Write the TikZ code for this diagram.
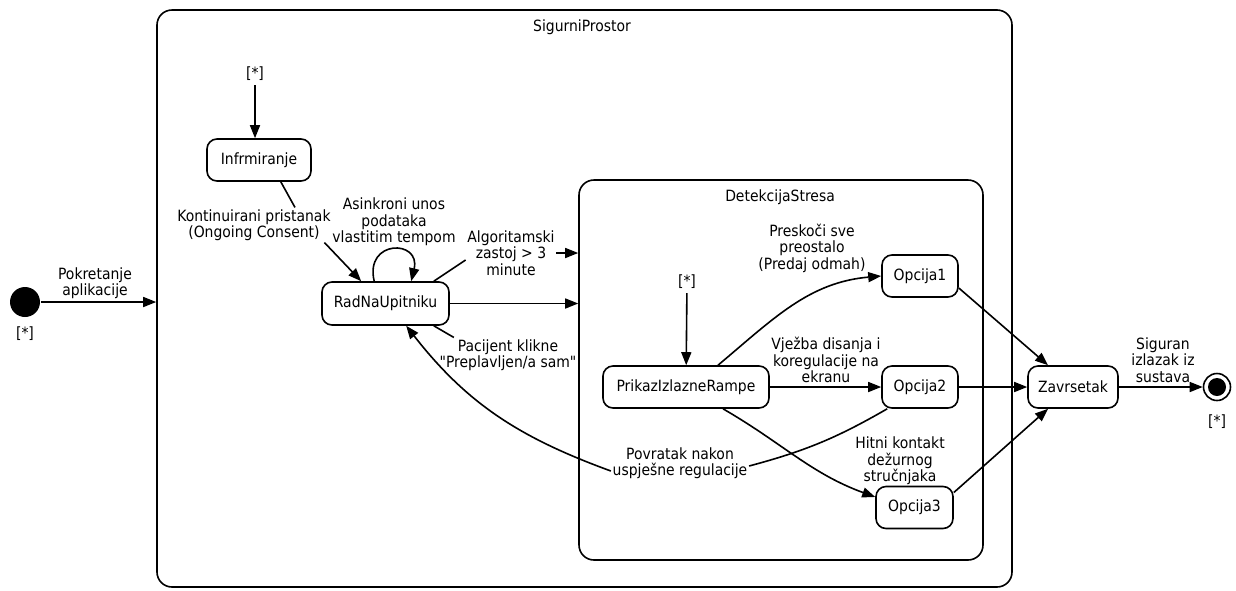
\documentclass[tikz,border=0pt]{standalone}
\usepackage{fontspec}
\newfontfamily\diagfont{DejaVu Sans Condensed}
\usetikzlibrary{arrows.meta}

\begin{document}
\begin{tikzpicture}[x=1pt,y=-1pt,line width=1.6pt,
  >={Triangle[length=13pt,width=10pt]},
  every node/.style={font=\diagfont\fontsize{15.5}{16.5}\selectfont},
  state/.style={draw,rounded corners=10pt,minimum height=42pt,inner sep=0pt},
  region/.style={draw,rounded corners=15pt,inner sep=0pt},
  lbl/.style={align=center,inner sep=1pt}]
\useasboundingbox (0,0) rectangle (1236,590);

%Outer state
\node[region,minimum width=855pt,minimum height=577pt] (sigurni) at (584.5,298.5) {};
\node (sigurniTitle) at (582,27) {SigurniProstor};
\node[circle,fill,minimum size=30pt,inner sep=0pt] (init) at (25,302) {};
\node (initStar) at (25,334) {[*]};
\node[lbl] (lblPok) at (95,283) {Pokretanje\\aplikacije};
\draw[->] (init) -- (sigurni.west |- init);

%Consent and questionnaire
\node (star1) at (255,74) {[*]};
\node[state,minimum width=104pt] (inf) at (259,160) {Infrmiranje};
\node[state,minimum width=127pt,minimum height=43pt] (rad) at (385.5,303.5) {RadNaUpitniku};
\node[lbl] (lblK) at (254,225) {Kontinuirani pristanak\\(Ongoing Consent)};
\node[lbl] (lblAs) at (394,222) {Asinkroni unos\\podataka\\vlastitim tempom};
\node[lbl] (lblAl) at (511,253) {Algoritamski\\zastoj > 3\\minute};
\node[lbl] (lblPac) at (508,355) {Pacijent klikne\\"Preplavljen/a sam"};
\draw[->] (star1) -- (star1 |- inf.north);
\draw[->] (inf.-45) -- ([xshift=41pt]lblK.north) ([xshift=-8pt]lblK.south east) -- ([xshift=40pt]rad.north west);
\draw[->] ([xshift=53pt]rad.north west) .. controls +(-10,-42) and +(10,-42) .. ([xshift=90pt]rad.north west);

%Stress detection
\node[region,minimum width=404pt,minimum height=380pt] (det) at (781,370) {};
\node (detTitle) at (780,197) {DetekcijaStresa};
\draw ([xshift=-16pt]rad.north east) -- ([yshift=-7pt]lblAl.west);
\draw[->] (lblAl.east) -- (lblAl.east -| det.west);
\draw[->] (rad) -- (rad -| det.west);
\draw ([xshift=-16pt]rad.south east) -- ([xshift=16pt]lblPac.north west);

\node (star2) at (687,282) {[*]};
\node[state,minimum width=166pt] (prikaz) at (686,387) {PrikazIzlazneRampe};
\node[state,minimum width=76pt] (opc1) at (920,276) {Opcija1};
\node[state,minimum width=76pt] (opc2) at (920,387) {Opcija2};
\node[state,minimum width=77pt] (opc3) at (914.5,507.5) {Opcija3};
\node[lbl] (lblPre) at (812,248) {Preskoči sve\\preostalo\\(Predaj odmah)};
\node[lbl] (lblVj) at (826,360) {Vježba disanja i\\koregulacije na\\ekranu};
\node[lbl] (lblHit) at (900,461) {Hitni kontakt\\dežurnog\\stručnjaka};
\node[lbl] (lblPov) at (680,463) {Povratak nakon\\uspješne regulacije};
\draw[->] (star2) -- (prikaz);
\draw[->] ([xshift=32pt]prikaz.north) to[out=40,in=185] (opc1.west);
\draw[->] (prikaz) -- (opc2);
\draw[->] ([xshift=37pt]prikaz.south) to[out=-30,in=160] (opc3.165);
\draw ([xshift=6pt]opc2.south west) to[out=210,in=15] ([yshift=-3pt]lblPov.east);
\draw[->] ([yshift=-8pt]lblPov.west) to[out=160,in=-52] ([xshift=85pt]rad.south west);

%End
\node[state,minimum width=90pt] (zav) at (1073,387) {Zavrsetak};
\node[circle,draw,minimum size=27pt,inner sep=0pt] (final) at (1217,387) {};
\node[circle,fill,minimum size=18pt,inner sep=0pt] (finalDot) at (final) {};
\node (finalStar) at (1217,422) {[*]};
\node[lbl] (lblSig) at (1163,360) {Siguran\\izlazak iz\\sustava};
\draw[->] ([yshift=-12pt]opc1.east) -- ([xshift=-25pt]zav.north);
\draw[->] (opc2) -- (zav);
\draw[->] ([yshift=15pt]opc3.east) -- ([xshift=-25pt]zav.south);
\draw[->] (zav) -- (final);
\end{tikzpicture}
\end{document}
